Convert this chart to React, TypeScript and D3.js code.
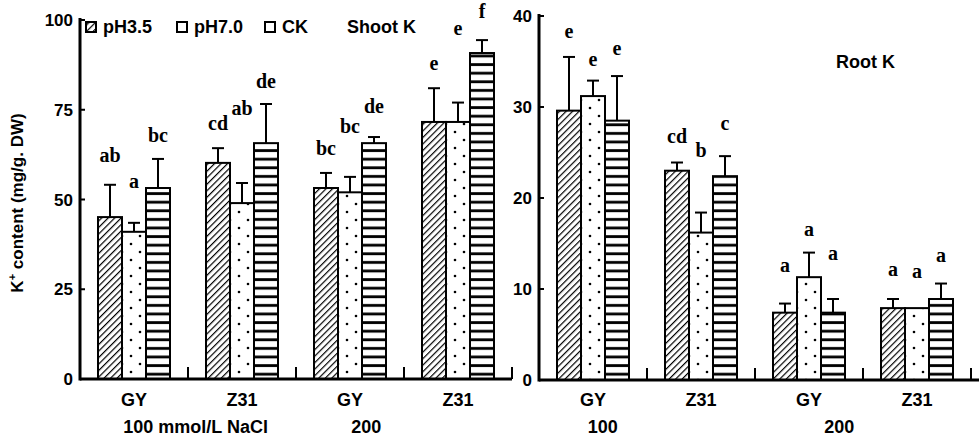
import React, { useEffect, useRef } from "react";
import * as d3 from "d3";

// groups along the x axis (genotype at a NaCl level)
const groupIds = ["GY-100", "Z31-100", "GY-200", "Z31-200"];
const groupLabels = ["GY", "Z31", "GY", "Z31"];
const series = ["pH3.5", "pH7.0", "CK"];

// shoot K+ (mg/g DW), one row per group, one column per series
const shootMean = [
  [45.1, 41.0, 53.2],
  [60.2, 49.0, 65.7],
  [53.2, 52.0, 65.7],
  [71.6, 71.6, 90.8],
];
const shootErr = [
  [9.0, 2.5, 8.1],
  [4.1, 5.6, 10.9],
  [4.2, 4.3, 1.7],
  [9.4, 5.4, 3.6],
];
const shootLetters = [
  ["ab", "a", "bc"],
  ["cd", "ab", "de"],
  ["bc", "bc", "de"],
  ["e", "e", "f"],
];
// level (in data units) where each letter sits
const shootLetterAt = [
  [61.8, 54.6, 67.4],
  [70.8, 74.9, 82.5],
  [63.8, 69.9, 75.5],
  [87.5, 97.2, 102],
];

// root K+
const rootMean = [
  [29.6, 31.2, 28.5],
  [23.0, 16.2, 22.4],
  [7.4, 11.3, 7.4],
  [7.9, 7.9, 8.9],
];
const rootErr = [
  [5.9, 1.7, 4.9],
  [0.9, 2.2, 2.2],
  [1.0, 2.7, 1.5],
  [1.0, 0, 1.7],
];
const rootLetters = [
  ["e", "e", "e"],
  ["cd", "b", "c"],
  ["a", "a", "a"],
  ["a", "a", "a"],
];
const rootLetterAt = [
  [38.1, 35.1, 36.3],
  [26.6, 25.1, 28.0],
  [12.4, 16.4, 13.7],
  [12.0, 11.8, 13.5],
];

const shootTicks = [0, 25, 50, 75, 100];
const rootTicks = [0, 10, 20, 30, 40];

const SANS = "'Liberation Sans', Arial, sans-serif";
const SERIF = "'Liberation Serif', 'Times New Roman', serif";

export default function App() {
  const ref = useRef<SVGSVGElement>(null);

  useEffect(() => {
    const svg = d3.select(ref.current);
    svg.selectAll("*").remove();

    // fill patterns
    const defs = svg.append("defs");
    const hatch = defs
      .append("pattern")
      .attr("id", "p-hatch")
      .attr("patternUnits", "userSpaceOnUse")
      .attr("width", 4.6)
      .attr("height", 4.6)
      .attr("patternTransform", "rotate(45)");
    hatch.append("rect").attr("width", 4.6).attr("height", 4.6).attr("fill", "#fff");
    hatch
      .append("line")
      .attr("x1", 0).attr("y1", 0).attr("x2", 0).attr("y2", 4.6)
      .attr("stroke", "#000").attr("stroke-width", 2.4);

    const dots = defs
      .append("pattern")
      .attr("id", "p-dots")
      .attr("patternUnits", "userSpaceOnUse")
      .attr("width", 18)
      .attr("height", 16);
    dots.append("rect").attr("width", 18).attr("height", 16).attr("fill", "#fff");
    dots.append("circle").attr("cx", 5).attr("cy", 4).attr("r", 1.3).attr("fill", "#000");
    dots.append("circle").attr("cx", 14).attr("cy", 12).attr("r", 1.3).attr("fill", "#000");

    const hlines = defs
      .append("pattern")
      .attr("id", "p-hlines")
      .attr("patternUnits", "userSpaceOnUse")
      .attr("width", 10)
      .attr("height", 8.6);
    hlines.append("rect").attr("width", 10).attr("height", 8.6).attr("fill", "#fff");
    hlines.append("rect").attr("y", 3).attr("width", 10).attr("height", 2.8).attr("fill", "#000");

    const fills = d3.scaleOrdinal<string, string>()
      .domain(series)
      .range(["url(#p-hatch)", "url(#p-dots)", "url(#p-hlines)"]);

    const panels = [
      {
        mean: shootMean, err: shootErr, letters: shootLetters, letterAt: shootLetterAt,
        xRange: [80, 512], yRange: [379, 20], max: 100, ticks: shootTicks,
        baselineEnd: 512, topAxis: 18,
        cond: [
          { text: "100 mmol/L NaCl", at: 1.07 },
          { text: "200", at: 2.65 },
        ],
        title: { text: "Shoot K", x: 347, y: 33 },
      },
      {
        mean: rootMean, err: rootErr, letters: rootLetters, letterAt: rootLetterAt,
        xRange: [539, 971], yRange: [380, 16], max: 40, ticks: rootTicks,
        baselineEnd: 979, topAxis: 14,
        cond: [
          { text: "100", at: 0.59 },
          { text: "200", at: 2.78 },
        ],
        title: { text: "Root K", x: 836, y: 68 },
      },
    ];

    panels.forEach((p) => {
      const x0 = d3.scaleBand().domain(groupIds).range(p.xRange as [number, number]).padding(0);
      const x1 = d3.scaleBand().domain(series).range([0, x0.bandwidth()]).paddingInner(0).paddingOuter(0.75);
      const y = d3.scaleLinear().domain([0, p.max]).range(p.yRange as [number, number]);
      const g = svg.append("g");

      const rows = groupIds.flatMap((gid, i) =>
        series.map((s, j) => ({
          gid, s,
          v: p.mean[i][j],
          e: p.err[i][j],
          letter: p.letters[i][j],
          la: p.letterAt[i][j],
        }))
      );

      // bars
      g.selectAll("rect.bar")
        .data(rows)
        .join("rect")
        .attr("class", "bar")
        .attr("x", (d) => (x0(d.gid) as number) + (x1(d.s) as number))
        .attr("y", (d) => y(d.v))
        .attr("width", x1.bandwidth())
        .attr("height", (d) => y(0) - y(d.v))
        .attr("fill", (d) => fills(d.s))
        .attr("stroke", "#000")
        .attr("stroke-width", 2);

      // error bars (upper half only)
      const eb = g.selectAll("g.err").data(rows.filter((d) => d.e > 0)).join("g").attr("class", "err");
      const cx = (d: any) => (x0(d.gid) as number) + (x1(d.s) as number) + x1.bandwidth() / 2;
      eb.append("line")
        .attr("x1", cx).attr("x2", cx)
        .attr("y1", (d) => y(d.v)).attr("y2", (d) => y(d.v + d.e))
        .attr("stroke", "#000").attr("stroke-width", 2);
      eb.append("line")
        .attr("x1", (d) => cx(d) - 6).attr("x2", (d) => cx(d) + 6)
        .attr("y1", (d) => y(d.v + d.e)).attr("y2", (d) => y(d.v + d.e))
        .attr("stroke", "#000").attr("stroke-width", 2);

      // significance letters
      g.selectAll("text.letter")
        .data(rows)
        .join("text")
        .attr("class", "letter")
        .attr("x", cx)
        .attr("y", (d) => y(d.la) + 5)
        .attr("text-anchor", "middle")
        .attr("font-family", SERIF)
        .attr("font-weight", "bold")
        .attr("font-size", 20)
        .text((d) => d.letter);

      // y axis
      const left = p.xRange[0];
      g.append("line")
        .attr("x1", left).attr("x2", left)
        .attr("y1", p.topAxis).attr("y2", y(0) + 1.5)
        .attr("stroke", "#000").attr("stroke-width", 3);
      g.selectAll("line.ytick")
        .data(p.ticks)
        .join("line")
        .attr("class", "ytick")
        .attr("x1", left).attr("x2", left + 5)
        .attr("y1", (d) => y(d)).attr("y2", (d) => y(d))
        .attr("stroke", "#000").attr("stroke-width", 2);
      g.selectAll("text.ytl")
        .data(p.ticks)
        .join("text")
        .attr("class", "ytl")
        .attr("x", left - 7)
        .attr("y", (d) => y(d) + 6)
        .attr("text-anchor", "end")
        .attr("font-family", SANS)
        .attr("font-weight", "bold")
        .attr("font-size", 17)
        .text((d) => d);

      // baseline with group separators
      g.append("line")
        .attr("x1", left).attr("x2", p.baselineEnd)
        .attr("y1", y(0)).attr("y2", y(0))
        .attr("stroke", "#000").attr("stroke-width", 3);
      g.selectAll("line.sep")
        .data(groupIds.slice(1).concat(["end"]))
        .join("line")
        .attr("class", "sep")
        .attr("x1", (d) => (d === "end" ? p.xRange[1] : (x0(d) as number)))
        .attr("x2", (d) => (d === "end" ? p.xRange[1] : (x0(d) as number)))
        .attr("y1", y(0)).attr("y2", y(0) - 12)
        .attr("stroke", "#000").attr("stroke-width", 2);

      // group labels
      g.selectAll("text.xtl")
        .data(groupIds)
        .join("text")
        .attr("class", "xtl")
        .attr("x", (d) => (x0(d) as number) + x0.bandwidth() / 2)
        .attr("y", 406)
        .attr("text-anchor", "middle")
        .attr("font-family", SANS)
        .attr("font-weight", "bold")
        .attr("font-size", 18)
        .text((d, i) => groupLabels[i]);

      g.selectAll("text.cond")
        .data(p.cond)
        .join("text")
        .attr("class", "cond")
        .attr("x", (d) => p.xRange[0] + d.at * x0.bandwidth())
        .attr("y", 433)
        .attr("text-anchor", "middle")
        .attr("font-family", SANS)
        .attr("font-weight", "bold")
        .attr("font-size", 18)
        .text((d) => d.text);

      g.append("text")
        .attr("x", p.title.x)
        .attr("y", p.title.y)
        .attr("font-family", SANS)
        .attr("font-weight", "bold")
        .attr("font-size", 18)
        .text(p.title.text);
    });

    // legend
    const legendX = [86, 177, 265];
    const lg = svg.append("g");
    series.forEach((s, i) => {
      lg.append("rect")
        .attr("x", legendX[i]).attr("y", 22)
        .attr("width", 10).attr("height", 10)
        .attr("fill", i === 0 ? fills(s) : "#fff")
        .attr("stroke", "#000").attr("stroke-width", 2);
      lg.append("text")
        .attr("x", legendX[i] + 17).attr("y", 33)
        .attr("font-family", SANS)
        .attr("font-weight", "bold")
        .attr("font-size", 18)
        .text(s);
    });

    // y axis title
    const yt = svg.append("text")
      .attr("transform", "translate(23,203) rotate(-90)")
      .attr("text-anchor", "middle")
      .attr("font-family", SANS)
      .attr("font-weight", "bold")
      .attr("font-size", 17);
    yt.append("tspan").text("K");
    yt.append("tspan").attr("dy", -7).attr("font-size", 11).text("+");
    yt.append("tspan").attr("dy", 7).text(" content (mg/g. DW)");
  }, []);

  return (
    <svg
      ref={ref}
      width={979}
      height={437}
      style={{ position: "absolute", left: 0, top: 0, background: "#fff" }}
    />
  );
}
